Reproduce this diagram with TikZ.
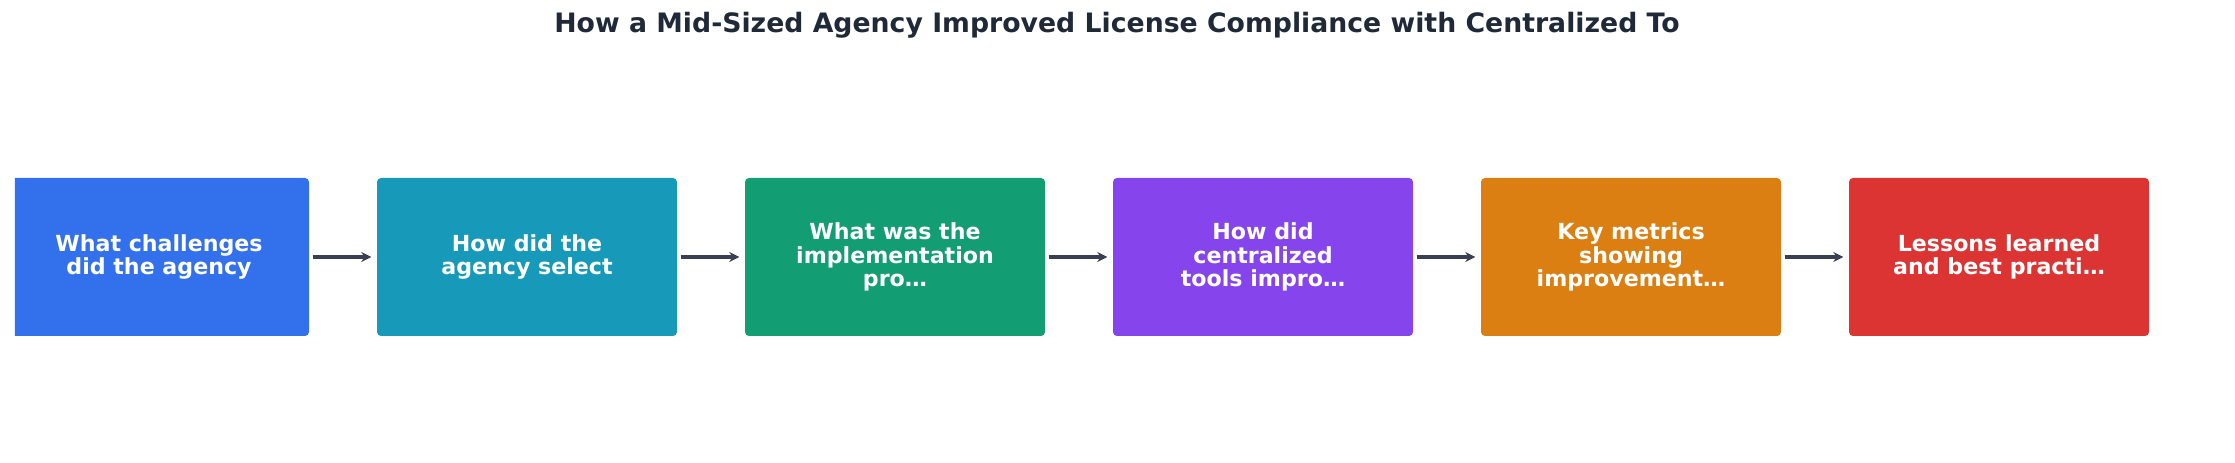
\documentclass[tikz,border=0pt]{standalone}
\usepackage{fontspec}
\setmainfont{DejaVu Sans}
\usetikzlibrary{arrows.meta,positioning}
\definecolor{cA}{HTML}{3370EB}
\definecolor{cB}{HTML}{1799BA}
\definecolor{cC}{HTML}{139D72}
\definecolor{cD}{HTML}{8645EC}
\definecolor{cE}{HTML}{DB7F13}
\definecolor{cF}{HTML}{DC3333}
\definecolor{ink}{HTML}{1F2937}
\definecolor{arr}{HTML}{374151}
\tikzset{
  stage/.style={rounded corners=0.04cm,minimum width=3cm,minimum height=1.58cm,
    text=white,align=center,font=\fontsize{6.3}{6.6}\selectfont\bfseries,inner sep=0},
  flow/.style={-{Stealth[length=0.1cm,width=0.1cm]},line width=1.4pt,color=arr}
}
\begin{document}
\begin{tikzpicture}
\useasboundingbox (0,0) rectangle (22.35,4.62);
\clip (0.15,0) rectangle (22.35,4.62);

\node[font=\fontsize{7.6}{9}\selectfont\bfseries,text=ink] (title) at (11.17,4.37)
  {How a Mid-Sized Agency Improved License Compliance with Centralized To};

\foreach \i/\c/\t in {1/cA/{What challenges\\did the agency},
                      2/cB/{How did the\\agency select},
                      3/cC/{What was the\\implementation\\pro\dots},
                      4/cD/{How did\\centralized\\tools impro\dots},
                      5/cE/{Key metrics\\showing\\improvement\dots},
                      6/cF/{Lessons learned\\and best practi\dots}}
  \node[stage,fill=\c] (b\i) at ({1.59+3.68*(\i-1)},2.05) {\t};

\foreach \i [evaluate=\i as \j using int(\i+1)] in {1,...,5}
  \draw[flow] ([xshift=0.03cm]b\i.east) -- ([xshift=-0.05cm]b\j.west);
\end{tikzpicture}
\end{document}
